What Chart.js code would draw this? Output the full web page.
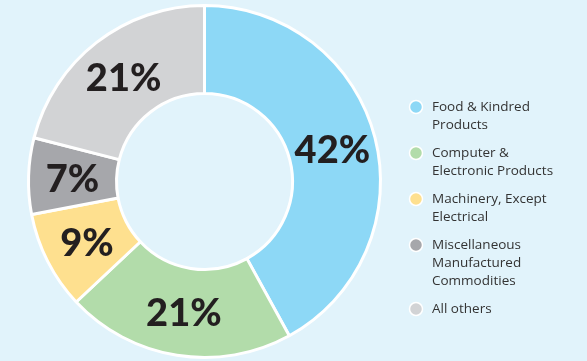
<!DOCTYPE html>
<html>
<head>
<meta charset="utf-8">
<script src="https://cdn.jsdelivr.net/npm/chart.js@4/dist/chart.umd.min.js"></script>
<style>
  html, body { margin: 0; padding: 0; background: #e1f3fb; }
  #wrap { width: 587px; height: 361px; }
</style>
</head>
<body>
<div id="wrap"><canvas id="chart" width="587" height="361"></canvas></div>
<script>
// datos
const categories = [
  ['Food & Kindred', 'Products'],
  ['Computer &', 'Electronic Products'],
  ['Machinery, Except', 'Electrical'],
  ['Miscellaneous', 'Manufactured', 'Commodities'],
  ['All others']
];
const shares = [42, 21, 9, 7, 21];
const colors = ['#8dd8f6', '#b2dcaa', '#fee08f', '#a6a7ab', '#d2d3d5'];

// etiquetas de porcentaje dentro de cada sector
const sliceLabels = {
  id: 'sliceLabels',
  afterDatasetsDraw(chart) {
    const ctx = chart.ctx;
    const meta = chart.getDatasetMeta(0);
    ctx.save();
    ctx.font = '900 38px Lato';
    ctx.fillStyle = '#231f20';
    ctx.textAlign = 'center';
    ctx.textBaseline = 'middle';
    meta.data.forEach((arc, i) => {
      const pos = arc.tooltipPosition();
      ctx.fillText(shares[i] + '%', pos.x, pos.y + 2);
    });
    ctx.restore();
  }
};

// leyenda a la derecha
const sideLegend = {
  id: 'sideLegend',
  afterDraw(chart) {
    const ctx = chart.ctx;
    const x = 416;
    const lineH = 18;
    let y = 107;
    ctx.save();
    ctx.font = '13.5px "Open Sans"';
    ctx.textBaseline = 'middle';
    categories.forEach((lines, i) => {
      ctx.beginPath();
      ctx.arc(x, y, 6.5, 0, Math.PI * 2);
      ctx.fillStyle = colors[i];
      ctx.fill();
      ctx.lineWidth = 1.5;
      ctx.strokeStyle = '#ffffff';
      ctx.stroke();
      ctx.fillStyle = '#333333';
      lines.forEach((line, j) => {
        ctx.fillText(line, x + 16, y + j * lineH);
      });
      y += lines.length * lineH + 10;
    });
    ctx.restore();
  }
};

new Chart(document.getElementById('chart'), {
  type: 'doughnut',
  data: {
    labels: categories.map(c => c.join(' ')),
    datasets: [{
      data: shares,
      backgroundColor: colors,
      borderColor: '#ffffff',
      borderWidth: 3
    }]
  },
  options: {
    responsive: false,
    animation: false,
    cutout: '50%',
    layout: { padding: { left: 27, right: 205, top: 4, bottom: 2 } },
    plugins: {
      legend: { display: false },
      tooltip: { enabled: false }
    }
  },
  plugins: [sliceLabels, sideLegend]
});
</script>
</body>
</html>
